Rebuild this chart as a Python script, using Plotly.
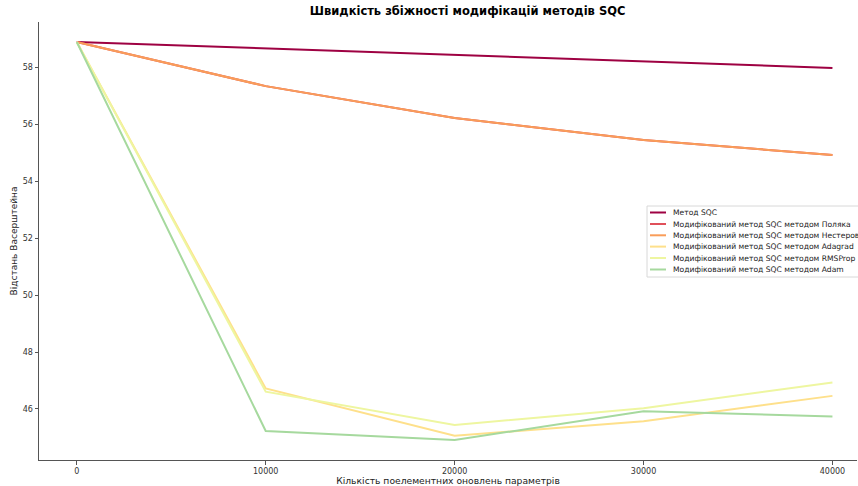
import plotly.graph_objects as go

iterations = [0, 10000, 20000, 30000, 40000]
series_names = [
    "Метод SQC",
    "Модифікований метод SQC методом Поляка",
    "Модифікований метод SQC методом Нестеров",
    "Модифікований метод SQC методом Adagrad",
    "Модифікований метод SQC методом RMSProp",
    "Модифікований метод SQC методом Adam",
]
sqc = [58.88, 58.65, 58.42, 58.19, 57.97]
polyak = [58.88, 57.33, 56.21, 55.44, 54.91]
nesterov = [58.88, 57.33, 56.21, 55.44, 54.91]
adagrad = [58.88, 46.72, 45.06, 45.57, 46.46]
rmsprop = [58.88, 46.61, 45.44, 46.03, 46.93]
adam = [58.88, 45.23, 44.91, 45.92, 45.74]
colors = ["#9e0142", "#e0505a", "#f99d59", "#fee08b", "#eef6a0", "#a6d99e"]

all_series = [sqc, polyak, nesterov, adagrad, rmsprop, adam]

fig = go.Figure()
for name, vals, col in zip(series_names, all_series, colors):
    fig.add_trace(go.Scatter(x=iterations, y=vals, mode="lines", name=name,
                             line=dict(color=col, width=2), showlegend=False))

# Custom compact legend (paper coordinates)
W, H = 858, 486
ml, mr, mt, mb = 39, 1, 22, 26
pw, ph = W - ml - mr, H - mt - mb


def px(xp):
    return (xp - ml) / pw


def py(yp):
    return (H - mb - yp) / ph


shapes = [dict(type="rect", xref="paper", yref="paper",
               x0=px(647), x1=px(870), y0=py(277), y1=py(206),
               line=dict(color="#d8d8d8", width=1),
               fillcolor="rgba(255,255,255,0.85)", layer="above")]
annotations = []
row_y = [212.5, 224, 235.3, 246.6, 258, 269.5]
for name, col, yy in zip(series_names, colors, row_y):
    shapes.append(dict(type="line", xref="paper", yref="paper",
                       x0=px(650), x1=px(666), y0=py(yy), y1=py(yy),
                       line=dict(color=col, width=2), layer="above"))
    annotations.append(dict(text=name, xref="paper", yref="paper",
                            x=px(671), y=py(yy), xanchor="left", yanchor="middle",
                            showarrow=False, font=dict(size=7.6, color="#222")))

fig.update_layout(
    width=W, height=H,
    margin=dict(l=ml, r=mr, t=mt, b=mb, autoexpand=False),
    paper_bgcolor="white", plot_bgcolor="white",
    font=dict(family="DejaVu Sans", size=8, color="#333"),
    title=dict(text="<b>Швидкість збіжності модифікацій методів SQC</b>",
               x=0.545, xanchor="center", y=0.985, yanchor="top",
               font=dict(size=11.5, color="black")),
    xaxis=dict(range=[-2000, 41300], tickvals=iterations,
               ticktext=[str(v) for v in iterations],
               showgrid=False, zeroline=False, showline=True, automargin=False,
               linecolor="#555", linewidth=1, ticks="outside", ticklen=3.5,
               tickcolor="#555", tickfont=dict(size=8),
               title=dict(text="Кількість поелементних оновлень параметрів",
                          font=dict(size=9.2, color="#222"), standoff=2)),
    yaxis=dict(range=[44.21, 59.58], tickvals=[46, 48, 50, 52, 54, 56, 58],
               showgrid=False, zeroline=False, showline=True, automargin=False,
               linecolor="#555", linewidth=1, ticks="outside", ticklen=3.5,
               tickcolor="#555", tickfont=dict(size=8),
               title=dict(text="Відстань Васерштейна", font=dict(size=9, color="#222"),
                          standoff=3)),
    shapes=shapes,
    annotations=annotations,
)

fig.write_html("out.html", config={"displayModeBar": False},
               post_script="document.body.style.margin='0';document.body.style.overflow='hidden';")
